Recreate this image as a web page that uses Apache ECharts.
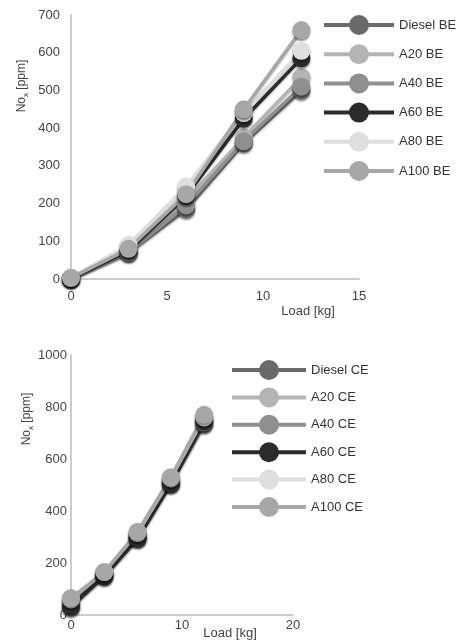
<!DOCTYPE html>
<html>
<head>
<meta charset="utf-8">
<script src="https://cdn.jsdelivr.net/npm/echarts@6/dist/echarts.min.js"></script>
<style>html,body{margin:0;padding:0;background:#fff}#c{width:463px;height:640px}</style>
</head>
<body>
<div id="c"></div>
<script>
var loads = [0, 3, 6, 9, 12];

var namesBE = ['Diesel BE', 'A20 BE', 'A40 BE', 'A60 BE', 'A80 BE', 'A100 BE'];
var dieselBE = [2, 70, 185, 360, 500];
var a20BE = [2, 75, 210, 375, 535];
var a40BE = [2, 70, 195, 365, 510];
var a60BE = [2, 75, 220, 425, 585];
var a80BE = [3, 90, 245, 440, 605];
var a100BE = [3, 80, 225, 450, 660];

var namesCE = ['Diesel CE', 'A20 CE', 'A40 CE', 'A60 CE', 'A80 CE', 'A100 CE'];
var dieselCE = [30, 150, 295, 505, 735];
var a20CE = [50, 160, 310, 520, 750];
var a40CE = [40, 155, 300, 510, 740];
var a60CE = [35, 150, 295, 505, 745];
var a80CE = [60, 165, 315, 525, 760];
var a100CE = [65, 165, 320, 530, 770];

var colors = ['#6a6a6a', '#b4b4b4', '#8f8f8f', '#2b2b2b', '#dedede', '#a7a7a7'];

var FONT = "'Liberation Sans', Arial, sans-serif";

function mkSeries(name, vals, idx, color) {
  return {
    type: 'line', name: name,
    xAxisIndex: idx, yAxisIndex: idx,
    data: loads.map(function (x, i) { return [x, vals[i]]; }),
    symbol: 'circle', symbolSize: 18,
    lineStyle: { color: color, width: 3.5, shadowColor: 'rgba(0,0,0,0.25)', shadowBlur: 2, shadowOffsetY: 1.5 },
    itemStyle: { color: color, shadowColor: 'rgba(0,0,0,0.45)', shadowBlur: 2, shadowOffsetY: 2 },
    emphasis: { disabled: true },
    z: 2
  };
}

var beVals = [dieselBE, a20BE, a40BE, a60BE, a80BE, a100BE];
var ceVals = [dieselCE, a20CE, a40CE, a60CE, a80CE, a100CE];
var series = [];
namesBE.forEach(function (n, i) { series.push(mkSeries(n, beVals[i], 0, colors[i])); });
namesCE.forEach(function (n, i) { series.push(mkSeries(n, ceVals[i], 1, colors[i])); });

var axisLine = { show: true, lineStyle: { color: '#cccccc', width: 2 } };
function lbl(m) {
  return { margin: m, color: '#444', fontSize: 13, fontFamily: FONT, formatter: function (v) { return String(v); } };
}

function yName(x, y) {
  return {
    type: 'text', x: x, y: y, rotation: Math.PI / 2,
    style: {
      text: '{a|No}{b|x}{a| [ppm]}',
      align: 'center', verticalAlign: 'middle',
      rich: {
        a: { fontSize: 12, fontFamily: FONT, fill: '#444', lineHeight: 16 },
        b: { fontSize: 8, fontFamily: FONT, fill: '#444', lineHeight: 16, verticalAlign: 'bottom', padding: [5, 0, 0, 0] }
      }
    }
  };
}
function xName(x, y) {
  return {
    type: 'text', x: x, y: y,
    style: { text: 'Load [kg]', align: 'center', verticalAlign: 'middle', fontSize: 13, fontFamily: FONT, fill: '#444' }
  };
}

function legendCfg(names, left, top, w, gap) {
  return {
    data: names, orient: 'vertical', left: left, top: top, padding: 0,
    itemWidth: w, itemHeight: 25, itemGap: gap,
    textStyle: { color: '#333', fontSize: 13, fontFamily: FONT },
    itemStyle: { shadowBlur: 0, shadowOffsetY: 0, shadowColor: 'transparent' },
    lineStyle: { width: 4, shadowBlur: 0, shadowOffsetY: 0, shadowColor: 'transparent' },
    selectedMode: false
  };
}

var option = {
  animation: false,
  backgroundColor: '#fff',
  grid: [
    { left: 71, top: 15, width: 288, height: 264 },
    { left: 71, top: 355, width: 222, height: 260 }
  ],
  xAxis: [
    { type: 'value', gridIndex: 0, min: 0, max: 15, interval: 5, axisLine: axisLine, axisTick: { show: false }, splitLine: { show: false }, axisLabel: lbl(11) },
    { type: 'value', gridIndex: 1, min: 0, max: 20, interval: 10, axisLine: axisLine, axisTick: { show: false }, splitLine: { show: false }, axisLabel: lbl(4) }
  ],
  yAxis: [
    { type: 'value', gridIndex: 0, min: 0, max: 700, interval: 100, axisLine: axisLine, axisTick: { show: false }, splitLine: { show: false }, axisLabel: lbl(11) },
    { type: 'value', gridIndex: 1, min: 0, max: 1000, interval: 200, axisLine: axisLine, axisTick: { show: false }, splitLine: { show: false }, axisLabel: lbl(4) }
  ],
  legend: [
    legendCfg(namesBE, 322, 15, 70, 9.2),
    legendCfg(namesCE, 230, 360, 74, 7.4)
  ],
  graphic: [
    yName(22, 86),
    yName(27, 419),
    xName(308, 311),
    xName(230, 633)
  ],
  series: series
};

var chart = echarts.init(document.getElementById('c'), null, { renderer: 'canvas' });
chart.setOption(option);
</script>
</body>
</html>
